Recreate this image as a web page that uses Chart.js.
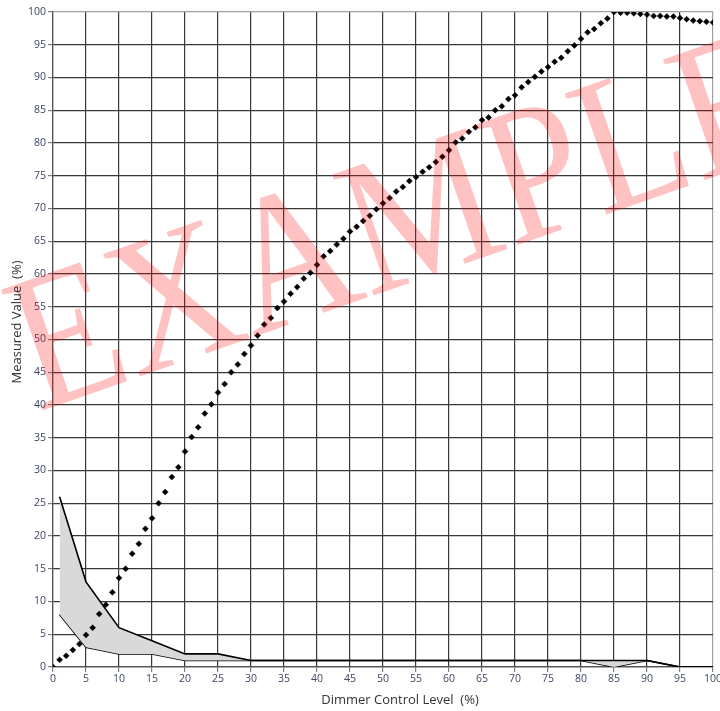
<!DOCTYPE html>
<html>
<head>
<meta charset="utf-8">
<script src="https://cdn.jsdelivr.net/npm/chart.js@4.4.1/dist/chart.umd.min.js"></script>
<style>
  html, body { margin: 0; padding: 0; background: #ffffff; }
  canvas { display: block; }
</style>
</head>
<body>
<canvas id="chart" width="720" height="711"></canvas>
<script>
// Dimmer sweep: control level (%) and the measured output (%) at each step
const dimmerLevels = [
  0, 1, 2, 3, 4, 5, 6, 7, 8, 9,
  10, 11, 12, 13, 14, 15, 16, 17, 18, 19,
  20, 21, 22, 23, 24, 25, 26, 27, 28, 29,
  30, 31, 32, 33, 34, 35, 36, 37, 38, 39,
  40, 41, 42, 43, 44, 45, 46, 47, 48, 49,
  50, 51, 52, 53, 54, 55, 56, 57, 58, 59,
  60, 61, 62, 63, 64, 65, 66, 67, 68, 69,
  70, 71, 72, 73, 74, 75, 76, 77, 78, 79,
  80, 81, 82, 83, 84, 85, 86, 87, 88, 89,
  90, 91, 92, 93, 94, 95, 96, 97, 98, 99,
  100
];
const measuredValues = [
  0.0, 1.1, 1.7, 2.6, 3.5, 4.9, 6.0, 8.1, 9.5, 11.4,
  13.6, 15.0, 17.3, 18.8, 21.1, 22.7, 25.0, 26.7, 29.0, 30.5,
  32.9, 35.1, 36.6, 38.7, 40.1, 41.9, 43.2, 45.0, 46.2, 47.8,
  49.1, 50.6, 52.3, 53.3, 54.8, 55.8, 57.0, 58.0, 59.3, 60.2,
  61.4, 62.7, 63.5, 64.5, 65.4, 66.5, 67.2, 68.1, 68.9, 69.9,
  70.8, 71.6, 72.6, 73.3, 74.2, 74.8, 75.6, 76.3, 77.1, 77.9,
  78.9, 80.1, 80.7, 81.7, 82.4, 83.5, 83.9, 85.0, 85.6, 86.7,
  87.3, 88.5, 89.3, 90.1, 90.9, 91.6, 92.4, 93.0, 94.0, 94.9,
  95.9, 96.9, 97.4, 98.3, 99.0, 100.0, 99.9, 99.9, 99.8, 99.7,
  99.6, 99.4, 99.4, 99.3, 99.3, 99.1, 98.9, 98.7, 98.6, 98.5,
  98.4
];

// Tolerance band (upper / lower limit) at the check points
const bandLevels = [1, 5, 10, 15, 20, 25, 30, 35, 40, 45, 50, 55, 60, 65, 70, 75, 80, 85, 90, 95, 100];
const bandUpper  = [26, 13, 6, 4, 2, 2, 1, 1, 1, 1, 1, 1, 1, 1, 1, 1, 1, 1, 1, 0, 0];
const bandLower  = [8, 3, 2, 2, 1, 1, 1, 1, 1, 1, 1, 1, 1, 1, 1, 1, 1, 0, 1, 0, 0];

// Axis tick labels (both axes)
const tickValues = [0, 5, 10, 15, 20, 25, 30, 35, 40, 45, 50, 55, 60, 65, 70, 75, 80, 85, 90, 95, 100];

const xTitle = 'Dimmer Control Level  (%)';
const yTitle = 'Measured Value  (%)';
const watermarkText = 'EXAMPLE';

const toPoints = (xs, ys) => xs.map((x, i) => ({ x: x, y: ys[i] }));

const PLOT = { left: 53, right: 713, top: 12, bottom: 667 };

const gridColor = (ctx) => (ctx.tick && ctx.tick.value === 100) ? '#a0a0a0' : '#383838';

// Axis titles placed by hand
const axisTitles = {
  id: 'axisTitles',
  afterDraw(chart) {
    const c = chart.ctx;
    c.save();
    c.fillStyle = '#333333';
    c.font = '13px "Open Sans", sans-serif';
    c.textAlign = 'center';
    c.textBaseline = 'middle';
    c.fillText(xTitle, 400, 700);
    c.translate(17, 322);
    c.rotate(-Math.PI / 2);
    c.fillText(yTitle, 0, 0);
    c.restore();
  }
};

// Translucent slanted stamp across the graph
const watermark = {
  id: 'watermark',
  afterDraw(chart) {
    const c = chart.ctx;
    c.save();
    // baseline direction and stem direction of the stamp
    c.transform(1.61, -0.56, 0.635, 1.844, 38, 412);
    c.font = '100px "Liberation Serif", "Times New Roman", serif';
    c.textAlign = 'left';
    c.textBaseline = 'alphabetic';
    c.fillStyle = 'rgba(255, 0, 0, 0.24)';
    c.fillText(watermarkText, 0, 0);
    c.restore();
  }
};

const fixedScaleFit = (size) => (scale) => {
  if (scale.isHorizontal()) {
    scale.height = size;
  } else {
    scale.width = size;
  }
  scale.paddingLeft = 0;
  scale.paddingRight = 0;
  scale.paddingTop = 0;
  scale.paddingBottom = 0;
};

const useTickValues = (scale) => {
  scale.ticks = tickValues.map(v => ({ value: v }));
};

new Chart(document.getElementById('chart'), {
  type: 'line',
  data: {
    datasets: [
      {
        label: 'Measured',
        data: toPoints(dimmerLevels, measuredValues),
        showLine: false,
        pointStyle: 'rectRot',
        pointRadius: 3,
        pointBorderWidth: 0.5,
        pointBackgroundColor: '#000000',
        pointBorderColor: '#000000',
        clip: 0
      },
      {
        label: 'Upper limit',
        data: toPoints(bandLevels, bandUpper),
        borderColor: '#000000',
        borderWidth: 1.6,
        backgroundColor: '#d9d9d9',
        fill: '+1',
        pointRadius: 0,
        tension: 0
      },
      {
        label: 'Lower limit',
        data: toPoints(bandLevels, bandLower),
        borderColor: '#000000',
        borderWidth: 1.6,
        fill: false,
        pointRadius: 0,
        tension: 0
      }
    ]
  },
  options: {
    responsive: false,
    animation: false,
    devicePixelRatio: 1,
    layout: {
      padding: { left: 0, right: 720 - PLOT.right, top: PLOT.top, bottom: 0 }
    },
    plugins: {
      legend: { display: false },
      tooltip: { enabled: false }
    },
    scales: {
      x: {
        type: 'linear',
        min: 0,
        max: 100,
        afterBuildTicks: useTickValues,
        afterFit: fixedScaleFit(711 - PLOT.bottom),
        grid: { color: gridColor, lineWidth: 1.2, tickLength: 5, tickColor: '#808080' },
        border: { color: '#555555', width: 1.2 },
        ticks: {
          color: '#3d4663',
          padding: 1,
          maxRotation: 0,
          autoSkip: false,
          font: { family: '"Open Sans", sans-serif', size: 10.5 }
        }
      },
      y: {
        type: 'linear',
        min: 0,
        max: 100,
        afterBuildTicks: useTickValues,
        afterFit: fixedScaleFit(PLOT.left),
        grid: { color: gridColor, lineWidth: 1.2, tickLength: 5, tickColor: '#808080' },
        border: { color: '#555555', width: 1.2 },
        ticks: {
          color: '#3d4663',
          padding: 2,
          autoSkip: false,
          font: { family: '"Open Sans", sans-serif', size: 10.5 }
        }
      }
    }
  },
  plugins: [watermark, axisTitles]
});
</script>
</body>
</html>
